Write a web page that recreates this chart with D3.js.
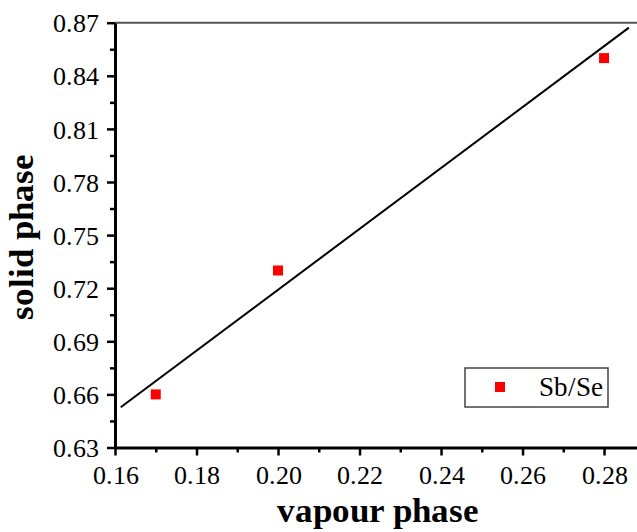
<!DOCTYPE html>
<html>
<head>
<meta charset="utf-8">
<script src="https://cdn.jsdelivr.net/npm/d3@7"></script>
<style>
  @font-face { font-family: 'ChartSerif'; font-weight: normal; src: local('Liberation Serif'), local('LiberationSerif'), local('Liberation Serif Regular'), local('LiberationSerif-Regular'); }
  @font-face { font-family: 'ChartSerif'; font-weight: bold; src: local('Liberation Serif Bold'), local('LiberationSerif-Bold'); }
  body { margin: 0; background: #fff; }
  svg { display: block; }
  svg text { font-family: ChartSerif, 'Liberation Serif', serif; }
</style>
</head>
<body>
<div class="chart"></div>
<script>
// data
const vapour = [0.17, 0.20, 0.28];
const solid = [0.66, 0.73, 0.85];
// fitted line end points
const fitX = [0.1614, 0.2861];
const fitY = [0.6527, 0.8672];
// ticks
const xTicks = [0.16, 0.18, 0.20, 0.22, 0.24, 0.26, 0.28];
const xMinor = [0.17, 0.19, 0.21, 0.23, 0.25, 0.27];
const yTicks = [0.63, 0.66, 0.69, 0.72, 0.75, 0.78, 0.81, 0.84, 0.87];
const yMinor = [0.645, 0.675, 0.705, 0.735, 0.765, 0.795, 0.825, 0.855];
const seriesName = 'Sb/Se';

const svg_width = 637;
const svg_height = 532;
const chart = { left: 115, top: 22.7, bottom: 447.5, right: 644.8 };

const svg = d3.select('.chart').append('svg')
    .attr('width', svg_width).attr('height', svg_height);

// scales
const xScale = d3.scaleLinear().domain([0.16, 0.29]).range([chart.left, chart.right]);
const yScale = d3.scaleLinear().domain([0.63, 0.87]).range([chart.bottom, chart.top]);

// top frame line
svg.append('line')
    .attr('x1', chart.left).attr('x2', svg_width)
    .attr('y1', chart.top).attr('y2', chart.top)
    .attr('stroke', '#555').attr('stroke-width', 2);

// fit line
const line = d3.line().x(d => xScale(d[0])).y(d => yScale(d[1]));
svg.append('path')
    .datum(fitX.map((x, i) => [x, fitY[i]]))
    .attr('d', line)
    .attr('fill', 'none').attr('stroke', '#000').attr('stroke-width', 2);

// points
const size = 10;
svg.selectAll('.pt')
    .data(vapour.map((x, i) => ({ x: x, y: solid[i] })))
    .enter().append('rect')
    .attr('class', 'pt')
    .attr('x', d => xScale(d.x) - size / 2)
    .attr('y', d => yScale(d.y) - size / 2)
    .attr('width', size).attr('height', size)
    .attr('fill', '#f00');

// minor ticks
svg.append('g')
    .attr('transform', `translate(0, ${chart.bottom})`)
    .call(d3.axisBottom(xScale).tickValues(xMinor).tickSize(5).tickFormat(''))
    .call(g => g.select('.domain').remove())
    .selectAll('line').attr('stroke', '#000').attr('stroke-width', 2.5);
svg.append('g')
    .attr('transform', `translate(${chart.left}, 0)`)
    .call(d3.axisLeft(yScale).tickValues(yMinor).tickSize(5).tickFormat(''))
    .call(g => g.select('.domain').remove())
    .selectAll('line').attr('stroke', '#000').attr('stroke-width', 2.5);

// major axes
const xAxisDraw = svg.append('g')
    .attr('transform', `translate(0, ${chart.bottom})`)
    .call(d3.axisBottom(xScale).tickValues(xTicks).tickSize(8).tickSizeOuter(0)
        .tickPadding(10).tickFormat(d3.format('.2f')))
    .attr('font-family', null).attr('font-size', 26);
xAxisDraw.select('.domain').attr('stroke', '#000').attr('stroke-width', 3);
xAxisDraw.selectAll('line').attr('stroke', '#000').attr('stroke-width', 2.5);
xAxisDraw.selectAll('text').attr('fill', '#000');

const yAxisDraw = svg.append('g')
    .attr('transform', `translate(${chart.left}, 0)`)
    .call(d3.axisLeft(yScale).tickValues(yTicks).tickSize(8).tickSizeOuter(0)
        .tickPadding(8).tickFormat(d3.format('.2f')))
    .attr('font-family', null).attr('font-size', 26);
yAxisDraw.select('.domain').attr('stroke', '#000').attr('stroke-width', 3);
yAxisDraw.selectAll('line').attr('stroke', '#000').attr('stroke-width', 2.5);
yAxisDraw.selectAll('text').attr('fill', '#000').attr('dy', '0.35em');

// axis titles
svg.append('text')
    .attr('x', 378).attr('y', 522)
    .attr('text-anchor', 'middle')
    .style('font-weight', 'bold')
    .style('font-size', '35px')
    .text('vapour phase');
svg.append('text')
    .attr('transform', 'translate(33, 237) rotate(-90)')
    .attr('text-anchor', 'middle')
    .style('font-weight', 'bold')
    .style('font-size', '35px')
    .text('solid phase');

// legend
const legend = svg.append('g').attr('transform', 'translate(465, 368)');
legend.append('rect')
    .attr('width', 143).attr('height', 39)
    .attr('fill', '#fff').attr('stroke', '#444').attr('stroke-width', 1.5);
legend.append('rect')
    .attr('x', 35 - size / 2).attr('y', 19 - size / 2)
    .attr('width', size).attr('height', size)
    .attr('fill', '#f00');
legend.append('text')
    .attr('x', 74).attr('y', 28)
    .style('font-size', '27px')
    .text(seriesName);
</script>
</body>
</html>
